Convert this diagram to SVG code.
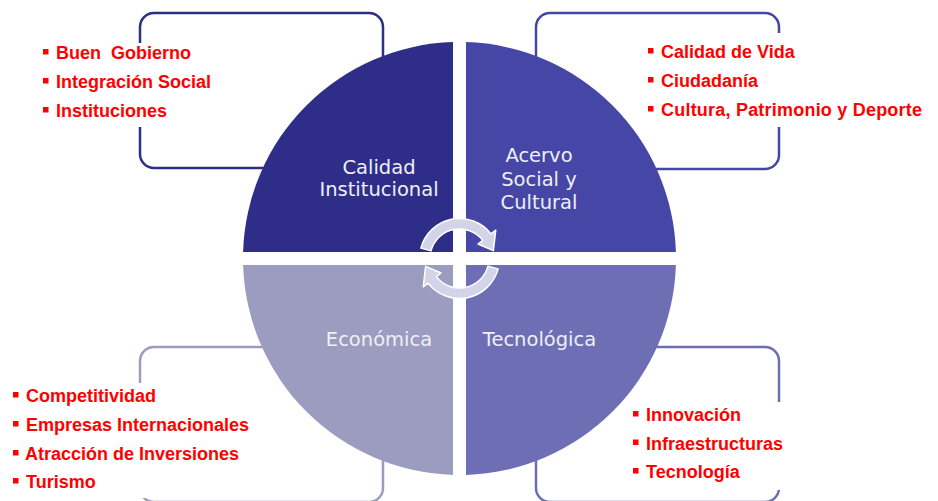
<svg xmlns="http://www.w3.org/2000/svg" width="938" height="501" viewBox="0 0 938 501">
<style>
.box{fill:none;stroke-width:2.5}
.bg{fill:#fff}
.item{font-family:"Liberation Sans",Arial,sans-serif;font-weight:bold;font-size:18px;fill:#ff0000}
.bul{fill:#ff0000}
.lbl{font-family:"DejaVu Sans",Verdana,sans-serif;font-size:19.5px;fill:#efeff4;text-anchor:middle}
.arr{fill:#d4d4e8;stroke:#ffffff;stroke-width:1.5;stroke-linejoin:round}
</style>
<defs>
<rect id="b" width="5.5" height="5.5"/>
<path id="arrow" class="arr" d="M420.86,248.15 A40,40 0 0 1 491.02,233.87 L495.75,230.18 L493.36,250.68 L478.02,244.03 L482.75,240.34 A29.5,29.5 0 0 0 431.01,250.86 Z"/>
</defs>
<rect width="938" height="501" fill="#ffffff"/>

<g id="box-institucional">
<rect class="box" x="140" y="13" width="243" height="155" rx="14" stroke="#2e2e88"/>
<rect class="bg" x="30" y="43" width="195" height="84"/>
<use href="#b" class="bul" x="43" y="49"/>
<text class="item" x="56" y="59" xml:space="preserve">Buen  Gobierno</text>
<use href="#b" class="bul" x="43" y="78"/>
<text class="item" x="56" y="88">Integración Social</text>
<use href="#b" class="bul" x="43" y="107"/>
<text class="item" x="56" y="117">Instituciones</text>
</g>

<g id="box-social">
<rect class="box" x="536" y="13" width="243" height="156" rx="14" stroke="#4646a6"/>
<rect class="bg" x="640" y="33" width="292" height="94"/>
<use href="#b" class="bul" x="648" y="48"/>
<text class="item" x="661" y="58">Calidad de Vida</text>
<use href="#b" class="bul" x="648" y="77"/>
<text class="item" x="661" y="87">Ciudadanía</text>
<use href="#b" class="bul" x="648" y="106"/>
<text class="item" x="661" y="116" textLength="261" lengthAdjust="spacing">Cultura, Patrimonio y Deporte</text>
</g>

<g id="box-economica">
<rect class="box" x="140" y="347" width="243" height="155" rx="14" stroke="#9c9cc0"/>
<rect class="bg" x="5" y="383" width="250" height="115"/>
<use href="#b" class="bul" x="13" y="392"/>
<text class="item" x="26" y="402">Competitividad</text>
<use href="#b" class="bul" x="13" y="421"/>
<text class="item" x="26" y="431">Empresas Internacionales</text>
<use href="#b" class="bul" x="13" y="450"/>
<text class="item" x="25" y="460">Atracción de Inversiones</text>
<use href="#b" class="bul" x="13" y="478"/>
<text class="item" x="26" y="488">Turismo</text>
</g>

<g id="box-tecnologica">
<rect class="box" x="536" y="347" width="243" height="155" rx="14" stroke="#6e6eb4"/>
<rect class="bg" x="625" y="402" width="170" height="88"/>
<use href="#b" class="bul" x="633" y="411"/>
<text class="item" x="646" y="421">Innovación</text>
<use href="#b" class="bul" x="633" y="439.5"/>
<text class="item" x="646" y="449.5">Infraestructuras</text>
<use href="#b" class="bul" x="633" y="468"/>
<text class="item" x="646" y="478">Tecnología</text>
</g>

<g id="q-institucional">
<path d="M453,252 L243.1,252 A216.5,216.5 0 0 1 453,42.1 Z" fill="#2e2e88"/>
<text class="lbl" x="379" y="174">Calidad</text>
<text class="lbl" x="379" y="196">Institucional</text>
</g>
<g id="q-social">
<path d="M466,252 L466,42.1 A216.5,216.5 0 0 1 675.9,252 Z" fill="#4646a6"/>
<text class="lbl" x="539" y="162">Acervo</text>
<text class="lbl" x="539" y="185.5">Social y</text>
<text class="lbl" x="539" y="209">Cultural</text>
</g>
<g id="q-economica">
<path d="M453,265 L453,474.9 A216.5,216.5 0 0 1 243.1,265 Z" fill="#9c9cc0"/>
<text class="lbl" x="379" y="346">Económica</text>
</g>
<g id="q-tecnologica">
<path d="M466,265 L675.9,265 A216.5,216.5 0 0 1 466,474.9 Z" fill="#6e6eb4"/>
<text class="lbl" x="539.5" y="346">Tecnológica</text>
</g>

<g id="connectors">
<use href="#arrow"/>
<use href="#arrow" transform="rotate(180 459.5 258.5)"/>
</g>
</svg>
